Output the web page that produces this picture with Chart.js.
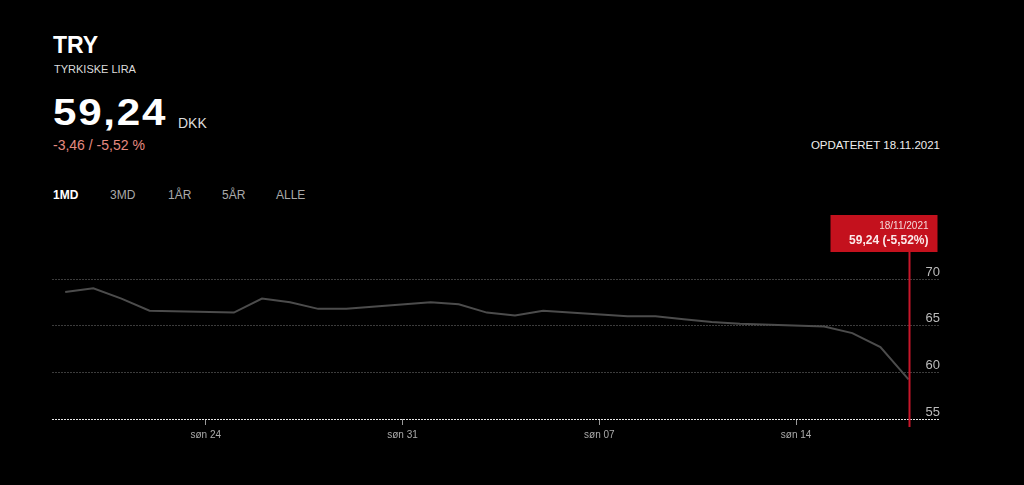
<!DOCTYPE html>
<html>
<head>
<meta charset="utf-8">
<script src="https://cdn.jsdelivr.net/npm/chart.js@4/dist/chart.umd.min.js"></script>
<style>
  html, body { margin: 0; padding: 0; background: #000; }
  body { width: 1024px; height: 485px; position: relative; overflow: hidden; font-family: "Liberation Sans", Arial, sans-serif; color: #fff; }
  .abs { position: absolute; white-space: nowrap; }
  #sym { left: 53px; top: 32px; font-size: 23px; font-weight: bold; }
  #name { left: 54px; top: 63px; font-size: 11px; color: #ddd; }
  #price { left: 53px; top: 95px; font-size: 36px; line-height: 36px; font-weight: bold; letter-spacing: 1.5px; transform: scaleX(1.17); transform-origin: left top; }
  #cur { left: 178px; top: 115px; font-size: 14px; color: #ddd; }
  #chg { left: 53px; top: 137px; font-size: 14px; color: #e58a80; }
  #upd { right: 84px; top: 139px; font-size: 11.5px; color: #eee; }
  #periods { left: 53px; top: 188px; font-size: 12px; color: #aaa; }
  #periods span { position: absolute; }
  #periods .on { color: #fff; font-weight: bold; }
  #wrap { position: absolute; left: 0; top: 0; width: 1024px; height: 485px; }
</style>
</head>
<body>
<div class="abs" id="sym">TRY</div>
<div class="abs" id="name">TYRKISKE LIRA</div>
<div class="abs" id="price">59,24</div>
<div class="abs" id="cur">DKK</div>
<div class="abs" id="chg">-3,46 / -5,52 %</div>
<div class="abs" id="upd">OPDATERET 18.11.2021</div>
<div class="abs" id="periods">
  <span class="on" style="left:0">1MD</span>
  <span style="left:57px">3MD</span>
  <span style="left:115px">1ÅR</span>
  <span style="left:169px">5ÅR</span>
  <span style="left:223px">ALLE</span>
</div>
<div id="wrap"><canvas id="chart"></canvas></div>
<script>
const dates = ['2021-10-19', '2021-10-20', '2021-10-21', '2021-10-22', '2021-10-25', '2021-10-26',
    '2021-10-27', '2021-10-28', '2021-10-29', '2021-11-01', '2021-11-02', '2021-11-03',
    '2021-11-04', '2021-11-05', '2021-11-08', '2021-11-09', '2021-11-10', '2021-11-11',
    '2021-11-12', '2021-11-15', '2021-11-16', '2021-11-17', '2021-11-18'];
const prices = [68.6, 69.0, 67.9, 66.6, 66.4, 67.9,
    67.5, 66.8, 66.8, 67.5, 67.3, 66.4,
    66.1, 66.6, 66.0, 66.0, 65.7, 65.4,
    65.2, 64.9, 64.2, 62.7, 59.24];
const tickDates = ['2021-10-24', '2021-10-31', '2021-11-07', '2021-11-14'];
const tickLabels = ['søn 24', 'søn 31', 'søn 07', 'søn 14'];
const yTicks = [55, 60, 65, 70];
const lastLabel = '18/11/2021';
const lastChange = '-5,52%';

const DAY = 86400000;
const origin = Date.parse(tickDates[0]);
const dayOf = d => (Date.parse(d) - origin) / DAY;
const points = dates.map((d, i) => ({ x: dayOf(d), y: prices[i] }));
const tickDays = tickDates.map(dayOf);

const fmt = v => v.toFixed(2).replace('.', ',');

// red marker + label box on the latest point
const markerPlugin = {
    id: 'marker',
    afterDatasetsDraw(chart) {
        const ctx = chart.ctx;
        const meta = chart.getDatasetMeta(0);
        const last = meta.data[meta.data.length - 1];
        const px = Math.round(last.x) + 0.5;
        const area = chart.chartArea;
        const boxTop = area.top - 64;
        const boxBottom = area.top - 27;
        ctx.save();
        ctx.fillStyle = '#c4111d';
        ctx.fillRect(px - 79, boxTop, 107, boxBottom - boxTop);
        ctx.strokeStyle = '#c8162a';
        ctx.lineWidth = 2;
        ctx.beginPath();
        ctx.moveTo(px, boxBottom);
        ctx.lineTo(px, area.bottom + 8);
        ctx.stroke();
        ctx.textAlign = 'right';
        ctx.textBaseline = 'middle';
        ctx.fillStyle = '#f4dada';
        ctx.font = '10px "Liberation Sans", Arial, sans-serif';
        ctx.fillText(lastLabel, px + 19, boxTop + 11);
        ctx.fillStyle = '#fbeaea';
        ctx.font = 'bold 12px "Liberation Sans", Arial, sans-serif';
        ctx.fillText(fmt(prices[prices.length - 1]) + ' (' + lastChange + ')', px + 19, boxTop + 26);
        ctx.restore();
    }
};

new Chart(document.getElementById('chart'), {
    type: 'line',
    data: {
        datasets: [{
            data: points,
            borderColor: '#4c4c4c',
            borderWidth: 2,
            pointRadius: 0,
            tension: 0
        }]
    },
    options: {
        responsive: true,
        maintainAspectRatio: false,
        animation: false,
        layout: { padding: { left: 52, right: 84, top: 279, bottom: 40 } },
        plugins: { legend: { display: false }, tooltip: { enabled: false } },
        scales: {
            x: {
                type: 'linear',
                min: -5.47,
                max: 26.12,
                afterBuildTicks: s => { s.ticks = tickDays.map(v => ({ value: v })); },
                ticks: {
                    color: '#aaa',
                    font: { size: 10, family: '"Liberation Sans", Arial, sans-serif' },
                    padding: 4,
                    maxRotation: 0,
                    callback: (v) => tickLabels[tickDays.indexOf(v)]
                },
                grid: { drawOnChartArea: false, color: '#999', tickLength: 6 },
                border: { display: false }
            },
            y: {
                position: 'right',
                min: 55,
                max: 70,
                afterBuildTicks: s => { s.ticks = yTicks.map(v => ({ value: v })); },
                ticks: {
                    mirror: true,
                    padding: 0,
                    labelOffset: -7,
                    color: '#bbb',
                    font: { size: 13, family: '"Liberation Sans", Arial, sans-serif' }
                },
                grid: {
                    drawTicks: false,
                    color: c => c.tick && c.tick.value === 55 ? '#e6e6e6' : '#3c3c3c'
                },
                border: { display: false, dash: [2, 1] }
            }
        }
    },
    plugins: [markerPlugin]
});
</script>
</body>
</html>
